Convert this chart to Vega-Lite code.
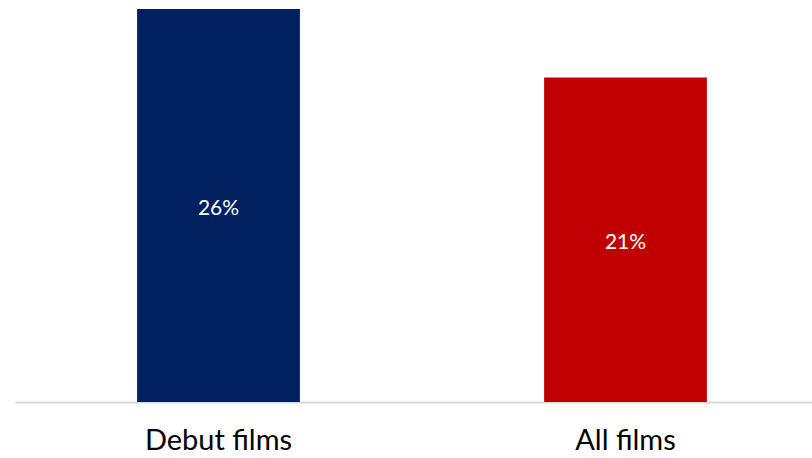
{
  "$schema": "https://vega.github.io/schema/vega-lite/v6.json",
  "autosize": "none",
  "width": 814,
  "height": 393,
  "padding": {"left": 15, "top": 9, "right": 0, "bottom": 56},
  "background": "white",
  "data": {"values": [
    {"cat": "Debut films", "v": 0.258},
    {"cat": "All films", "v": 0.213}
  ]},
  "config": {"view": {"stroke": null}, "font": "Lato"},
  "encoding": {
    "x": {"field": "cat", "type": "nominal", "sort": null,
      "scale": {"paddingInner": 0.6, "paddingOuter": 0.3},
      "axis": {"title": null, "labelAngle": 0, "ticks": false, "domainColor": "#d9d9d9", "domainWidth": 2, "labelFontSize": 29, "labelColor": "#000000", "labelPadding": 24, "labelFont": "Lato"}}
  },
  "layer": [
    {
      "mark": {"type": "bar"},
      "encoding": {
        "y": {"field": "v", "type": "quantitative", "scale": {"domain": [0, 0.258], "nice": false}, "axis": null},
        "color": {"field": "cat", "type": "nominal", "scale": {"domain": ["Debut films", "All films"], "range": ["#002060", "#C00000"]}, "legend": null}
      }
    },
    {
      "transform": [{"calculate": "datum.v / 2", "as": "mid"}],
      "mark": {"type": "text", "color": "white", "fontSize": 21, "baseline": "middle", "dy": 3},
      "encoding": {
        "y": {"field": "mid", "type": "quantitative", "scale": {"domain": [0, 0.258], "nice": false}, "axis": null},
        "text": {"field": "v", "type": "quantitative", "format": ".0%"}
      }
    }
  ]
}
